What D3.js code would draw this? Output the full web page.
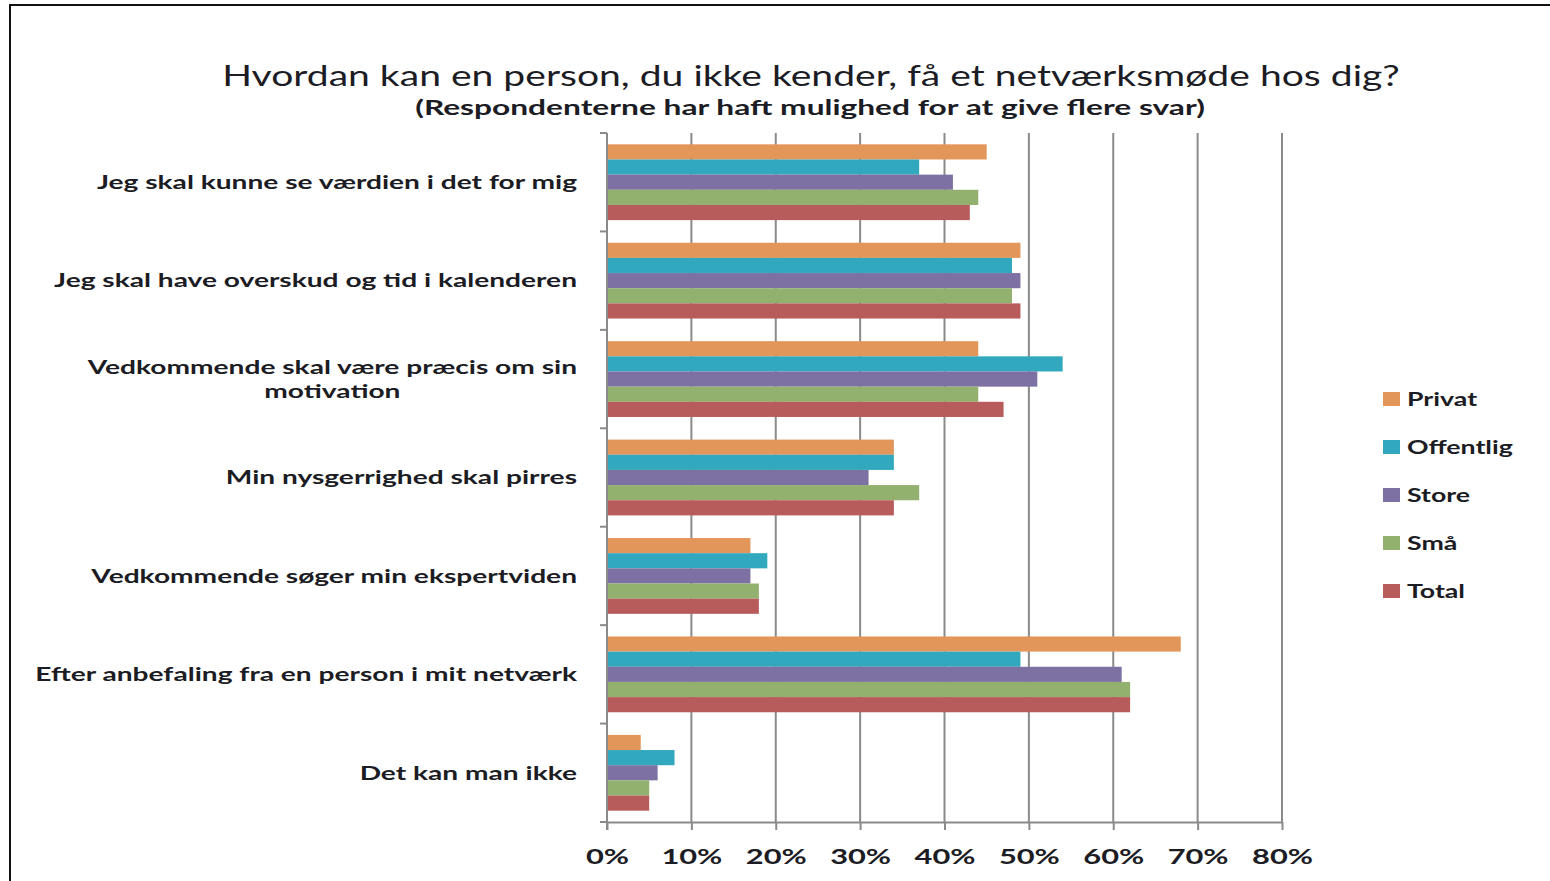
<!DOCTYPE html>
<html>
<head>
<meta charset="utf-8">
<script src="https://cdn.jsdelivr.net/npm/d3@7"></script>
<style>
  html, body { margin: 0; padding: 0; background: #fff; }
  svg { display: block; font-family: Lato, "Open Sans", sans-serif; }
</style>
</head>
<body>
<div id="chart"></div>
<script>
const categories = [
  "Jeg skal kunne se værdien i det for mig",
  "Jeg skal have overskud og tid i kalenderen",
  "Vedkommende skal være præcis om sin motivation",
  "Min nysgerrighed skal pirres",
  "Vedkommende søger min ekspertviden",
  "Efter anbefaling fra en person i mit netværk",
  "Det kan man ikke"
];
// label lines as in the picture
const categoryLines = [
  ["Jeg skal kunne se værdien i det for mig"],
  ["Jeg skal have overskud og tid i kalenderen"],
  ["Vedkommende skal være præcis om sin", "motivation"],
  ["Min nysgerrighed skal pirres"],
  ["Vedkommende søger min ekspertviden"],
  ["Efter anbefaling fra en person i mit netværk"],
  ["Det kan man ikke"]
];
const seriesNames = ["Privat", "Offentlig", "Store", "Små", "Total"];
const privat    = [0.45, 0.49, 0.44, 0.34, 0.17, 0.68, 0.04];
const offentlig = [0.37, 0.48, 0.54, 0.34, 0.19, 0.49, 0.08];
const store     = [0.41, 0.49, 0.51, 0.31, 0.17, 0.61, 0.06];
const smaa      = [0.44, 0.48, 0.44, 0.37, 0.18, 0.62, 0.05];
const total     = [0.43, 0.49, 0.47, 0.34, 0.18, 0.62, 0.05];
const tickValues = [0, 0.1, 0.2, 0.3, 0.4, 0.5, 0.6, 0.7, 0.8];
const colors = ["#e3965a", "#31a8be", "#7d71a3", "#92b06e", "#b75c5a"];

const seriesValues = [privat, offentlig, store, smaa, total];
const rows = categories.map((c, i) => ({
  category: c,
  values: seriesNames.map((s, j) => ({ series: s, value: seriesValues[j][i] }))
}));

const W = 1550, H = 881;
const textColor = "#1c1c24";
const gridColor = "#8a8a8a";

const svg = d3.select("#chart").append("svg").attr("width", W).attr("height", H);

// frame
svg.append("path")
  .attr("d", `M10,${H} L10,5 L${W},5`)
  .attr("fill", "none")
  .attr("stroke", "#111")
  .attr("stroke-width", 2);

// horizontal stretch needed for a text to reach a given width
function stretchFor(sel, target) {
  return target / sel.node().getComputedTextLength();
}

const x = d3.scaleLinear().domain([0, 0.8]).range([607, 1282]);
const y = d3.scaleBand().domain(categories).range([133, 822]).paddingInner(0.23).paddingOuter(0.115);
const ySub = d3.scaleBand().domain(seriesNames).range([0, y.bandwidth()]);
const color = d3.scaleOrdinal().domain(seriesNames).range(colors);

// === Title ===
const titleG = svg.append("g");
const title = titleG.append("text")
  .attr("text-anchor", "middle")
  .style("font-size", "28px")
  .style("fill", textColor)
  .text("Hvordan kan en person, du ikke kender, få et netværksmøde hos dig?");
titleG.attr("transform", `translate(811,86) scale(${stretchFor(title, 1178)},1)`);

const subG = svg.append("g");
const subtitle = subG.append("text")
  .attr("text-anchor", "middle")
  .style("font-size", "21px")
  .style("font-weight", "700")
  .style("fill", textColor)
  .text("(Respondenterne har haft mulighed for at give flere svar)");
subG.attr("transform", `translate(810,115) scale(${stretchFor(subtitle, 790)},1)`);

// === Grid ===
svg.append("g")
  .selectAll("line")
  .data(tickValues.slice(1))
  .enter()
  .append("line")
  .attr("x1", (d) => x(d)).attr("x2", (d) => x(d))
  .attr("y1", 133).attr("y2", 822)
  .attr("stroke", gridColor)
  .attr("stroke-width", 2);

// === Bars ===
const groups = svg.append("g")
  .selectAll("g")
  .data(rows)
  .enter()
  .append("g")
  .attr("transform", (d) => `translate(0,${y(d.category)})`);

groups.selectAll("rect")
  .data((d) => d.values)
  .enter()
  .append("rect")
  .attr("x", x(0))
  .attr("y", (d) => ySub(d.series))
  .attr("width", (d) => x(d.value) - x(0))
  .attr("height", ySub.bandwidth())
  .attr("fill", (d) => color(d.series));

// === Axes ===
const xAxis = svg.append("g")
  .attr("transform", "translate(0,822)")
  .call(d3.axisBottom(x).tickValues(tickValues).tickSize(8).tickSizeOuter(0).tickFormat(d3.format(".0%")));
xAxis.select(".domain").attr("stroke", gridColor).attr("stroke-width", 2);
xAxis.selectAll(".tick line").attr("stroke", gridColor).attr("stroke-width", 2);
const tickText = xAxis.selectAll(".tick text")
  .attr("y", 28)
  .attr("dy", "0.71em")
  .style("font-size", "20px")
  .style("font-weight", "700")
  .style("font-family", "Lato, sans-serif")
  .style("fill", textColor);
// stretch from the "80%" label width
const tickK = stretchFor(d3.select(tickText.nodes()[tickText.size() - 1]), 61);
tickText.attr("transform", `scale(${tickK},1)`);

// left axis line and category boundary ticks
const boundaries = d3.range(categories.length + 1).map((i) => 133 + i * (689 / categories.length));
svg.append("line")
  .attr("x1", x(0)).attr("x2", x(0))
  .attr("y1", 133).attr("y2", 830)
  .attr("stroke", gridColor).attr("stroke-width", 2);
svg.append("g")
  .selectAll("line")
  .data(boundaries)
  .enter()
  .append("line")
  .attr("x1", x(0) - 7).attr("x2", x(0))
  .attr("y1", (d) => d).attr("y2", (d) => d)
  .attr("stroke", gridColor).attr("stroke-width", 2);

// === Category labels ===
const labels = svg.append("g")
  .style("font-size", "19.5px")
  .style("font-weight", "700")
  .style("fill", textColor);

// stretch so the longest line fits its measured width
const probe = labels.append("text").text("Efter anbefaling fra en person i mit netværk");
const labelK = stretchFor(probe, 542);
probe.remove();
labels.attr("transform", `translate(577,0) scale(${labelK},1)`);

categoryLines.forEach((lines, i) => {
  const cy = y(categories[i]) + y.bandwidth() / 2;
  const lh = 24;
  const t = labels.append("text").attr("text-anchor", "middle");
  const spans = t.selectAll("tspan")
    .data(lines)
    .enter()
    .append("tspan")
    .text((d) => d);
  let maxW = 0;
  spans.each(function () { maxW = Math.max(maxW, this.getComputedTextLength()); });
  const y0 = cy - (lines.length - 1) * lh / 2;
  spans.attr("x", -maxW / 2).attr("y", (d, k) => y0 + k * lh).attr("dy", "0.35em");
});

// === Legend ===
const legend = svg.append("g").attr("transform", "translate(1383,399)");
const legendTexts = [];
seriesNames.forEach((s, i) => {
  const row = legend.append("g").attr("transform", `translate(0,${i * 48})`);
  row.append("rect").attr("x", 0).attr("y", -7).attr("width", 17).attr("height", 14).attr("fill", color(s));
  const t = row.append("text")
    .attr("dy", "0.35em")
    .style("font-size", "19.5px")
    .style("font-weight", "700")
    .style("fill", textColor)
    .text(s);
  legendTexts.push(t);
});
const legendK = stretchFor(legendTexts[1], 106);
legendTexts.forEach((t) => t.attr("transform", `translate(24,0) scale(${legendK},1)`));
</script>
</body>
</html>
